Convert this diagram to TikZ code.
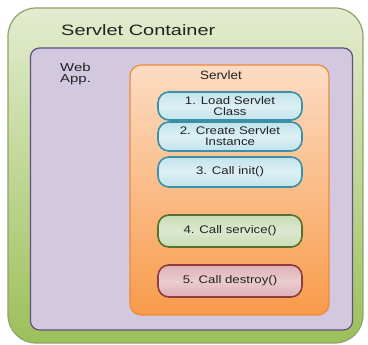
\documentclass[tikz,border=0pt]{standalone}
\usepackage{graphicx}
\usepackage{fontspec}
\setmainfont{Liberation Sans}
\newcommand{\sxt}[2]{\scalebox{#1}[1]{#2}}
\definecolor{grnTop}{HTML}{E3ECCF}
\definecolor{grnBot}{HTML}{9CC05A}
\definecolor{grnLine}{HTML}{8FA46C}
\definecolor{purFill}{HTML}{D2C9E1}
\definecolor{purLine}{HTML}{5F5080}
\definecolor{orTop}{HTML}{FCDCC4}
\definecolor{orBot}{HTML}{F89B4A}
\definecolor{orLine}{HTML}{EE8A3A}
\definecolor{bluFill}{HTML}{C2E3EC}
\definecolor{bluMid}{HTML}{DDF0F4}
\definecolor{bluLine}{HTML}{3B8FA6}
\definecolor{gnFill}{HTML}{C9DCB5}
\definecolor{gnMid}{HTML}{DCE8CF}
\definecolor{gnLine}{HTML}{56702E}
\definecolor{pkFill}{HTML}{DDB0B6}
\definecolor{pkMid}{HTML}{EBCCD0}
\definecolor{pkLine}{HTML}{8E3C3C}
\definecolor{txt}{HTML}{222222}
\begin{document}
\begin{tikzpicture}[x=1pt,y=-1pt,
  panel/.style={inner sep=0pt, outer sep=0pt, line width=1.2pt},
  stepbox/.style={rounded corners=11pt, line width=1.6pt, minimum width=144pt,
    inner sep=0pt, outer sep=0pt, align=center, text=txt,
    font=\fontsize{11}{12}\selectfont},
  bluebox/.style={stepbox, draw=bluLine, top color=bluFill, bottom color=bluFill, middle color=bluMid},
  greenbox/.style={stepbox, draw=gnLine, top color=gnFill, bottom color=gnFill, middle color=gnMid},
  pinkbox/.style={stepbox, draw=pkLine, top color=pkFill, bottom color=pkFill, middle color=pkMid},
  lbl/.style={inner sep=0pt, text=txt}
]
\useasboundingbox (0,0) rectangle (368,345);
\fill[white] (0,0) rectangle (368,345);
% containers
\node[panel, draw=grnLine, rounded corners=28pt, top color=grnTop, bottom color=grnBot,
  minimum width=355pt, minimum height=335pt] (container) at (185.5,175.5) {};
\node[panel, draw=purLine, rounded corners=9pt, fill=purFill,
  minimum width=322pt, minimum height=282pt] (webapp) at (191.5,189) {};
\node[panel, draw=orLine, rounded corners=11pt, top color=orTop, bottom color=orBot,
  minimum width=199pt, minimum height=250pt] (servlet) at (229.5,190) {};
% labels
\node[lbl, anchor=west, font=\fontsize{15}{16}\selectfont] (tc) at (61,30) {\sxt{1.33}{Servlet Container}};
\node[lbl, anchor=north west, align=left, font=\fontsize{11.5}{11}\selectfont] (tw) at (60,63)
  {\sxt{1.3}{Web}\\\sxt{1.3}{App.}};
\node[lbl, font=\fontsize{12}{13}\selectfont] (ts) at (221,75) {\sxt{1.12}{Servlet}};
% steps
\node[bluebox, minimum height=28pt] (s1) at (230,106) {\sxt{1.2}{1. Load Servlet}\\[-1pt]\sxt{1.2}{Class}};
\node[bluebox, minimum height=29pt] (s2) at (230,136.5) {\sxt{1.2}{2. Create Servlet}\\[-1pt]\sxt{1.2}{Instance}};
\node[bluebox, minimum height=30pt] (s3) at (230,172) {\sxt{1.2}{3. Call init()}};
\node[greenbox, minimum height=32pt] (s4) at (230,231) {\sxt{1.2}{4. Call service()}};
\node[pinkbox, minimum height=32pt] (s5) at (230,281) {\sxt{1.2}{5. Call destroy()}};
\end{tikzpicture}
\end{document}
